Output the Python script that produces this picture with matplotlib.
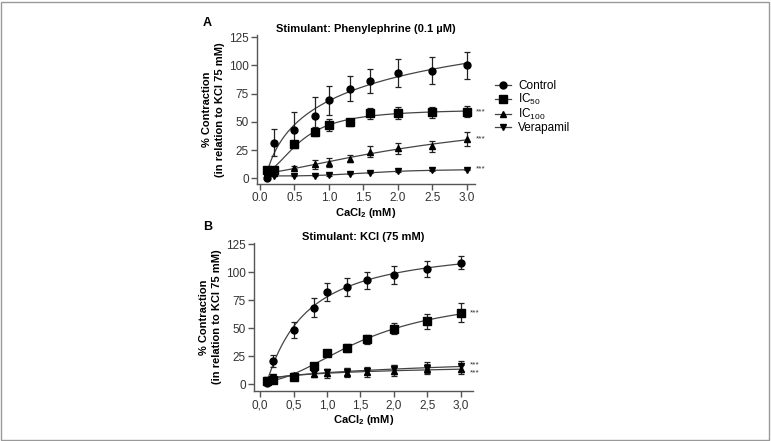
import numpy as np
import matplotlib
matplotlib.use("Agg")
import matplotlib.pyplot as plt
from matplotlib.lines import Line2D
from matplotlib.patches import Rectangle

FONT = ['Liberation Sans Narrow', 'Liberation Sans', 'DejaVu Sans']
plt.rcParams['font.family'] = FONT
plt.rcParams['mathtext.fontset'] = 'custom'
plt.rcParams['mathtext.rm'] = 'Liberation Sans'
plt.rcParams['mathtext.it'] = 'Liberation Sans'
plt.rcParams['mathtext.bf'] = 'Liberation Sans:bold'

# ---------------- data ----------------
x_ca = [0.1, 0.2, 0.5, 0.8, 1.0, 1.3, 1.6, 2.0, 2.5, 3.0]
series_names = ['Control', 'IC$_{50}$', 'IC$_{100}$', 'Verapamil']

A_control = [0, 31.5, 43, 55, 69, 79.5, 86.5, 93, 95.5, 100]
A_control_err = [1, 12, 16, 17, 13, 11, 10.5, 12.5, 12, 12]
A_ic50 = [7, 7, 30, 41.5, 47.5, 49.5, 57.5, 58, 58.5, 59]
A_ic50_err = [2, 2, 2, 4, 5.5, 3, 5, 5, 5, 5]
A_ic100 = [5, 5, 9.5, 12.5, 14, 17.5, 23.5, 26.5, 28.5, 35]
A_ic100_err = [1, 1, 1.5, 4, 4, 3, 5, 5, 5, 6.5]
A_vera = [1.5, 2.5, 2.5, 2.5, 3, 4, 5, 6.5, 7, 7.5]
A_vera_err = [0.5] * 10

B_control = [0.5, 20.5, 48.5, 68, 82, 87, 92.5, 97.5, 103, 108.5]
B_control_err = [1, 5.5, 7, 8.5, 8, 8, 7.5, 8, 7, 6]
B_ic50 = [3, 4, 6.5, 16, 27.5, 32.5, 40, 49.5, 56, 63.5]
B_ic50_err = [1, 1, 1, 3, 2.5, 3.5, 4, 5, 7, 8.5]
B_ic100 = [3.5, 6, 8, 9, 9.5, 10, 10.5, 12, 13.5, 13]
B_ic100_err = [1, 1.5, 2, 3, 4, 4, 4, 5, 4, 4]
B_vera = [4, 6.5, 7, 10, 10.5, 11, 12, 13, 14.5, 16]
B_vera_err = [1, 1.5, 2, 3, 3, 3, 3, 4, 5.5, 5]

y_ticks = [0, 25, 50, 75, 100, 125]
x_ticks = [0.0, 0.5, 1.0, 1.5, 2.0, 2.5, 3.0]
xtick_labels_A = ['0.0', '0.5', '1.0', '1.5', '2.0', '2.5', '3.0']
xtick_labels_B = ['0,0', '0,5', '1,0', '1,5', '2,0', '2,5', '3,0']

markers = ['o', 's', '^', 'v']
msizes = [5, 5.5, 5, 5]


def hill_fit(x, y):
    x = np.asarray(x, float)
    y = np.asarray(y, float)
    best = None
    for ec in np.exp(np.linspace(np.log(0.05), np.log(20), 120)):
        for n in np.linspace(0.5, 4, 36):
            f = x ** n / (ec ** n + x ** n)
            M = np.column_stack([np.ones_like(f), f])
            coef, *_ = np.linalg.lstsq(M, y, rcond=None)
            r = np.sum((M @ coef - y) ** 2)
            if best is None or r < best[0]:
                best = (r, ec, n, coef)
    _, ec, n, coef = best
    xs = np.linspace(x.min(), x.max(), 200)
    f = xs ** n / (ec ** n + xs ** n)
    return xs, coef[0] + coef[1] * f


fig = plt.figure(figsize=(7.71, 4.41), dpi=100)
W, H = 771, 441


def px_axes(left, right, top, bottom):
    return fig.add_axes([left / W, 1 - bottom / H, (right - left) / W, (bottom - top) / H])


def draw_panel(ax, ys, errs, xlim, ylim, xlabels, stars):
    for i, (y, e) in enumerate(zip(ys, errs)):
        xs, yf = hill_fit(x_ca, y)
        ax.plot(xs, yf, color='#444444', lw=0.9, zorder=2)
        ax.errorbar(x_ca, y, yerr=e, fmt=markers[i], ms=msizes[i], color='black',
                    ecolor='#222222', elinewidth=0.9, capsize=2.5, capthick=0.9, zorder=3)
    for yv in stars:
        ax.text(3.13, yv, '***', fontsize=6, color='#333333', va='center', ha='left',
                clip_on=False)
    ax.set_xlim(*xlim)
    ax.set_ylim(*ylim)
    ax.set_xticks(x_ticks)
    ax.set_xticklabels(xlabels)
    ax.set_yticks(y_ticks)
    for s in ['top', 'right']:
        ax.spines[s].set_visible(False)
    for s in ['left', 'bottom']:
        ax.spines[s].set_color('#555555')
        ax.spines[s].set_linewidth(1.0)
    ax.tick_params(direction='out', length=4, width=1, color='#555555',
                   labelsize=8.5, labelcolor='#333333', pad=2)
    ax.set_xlabel('CaCl$_\\mathbf{2}$ (mM)', fontsize=8, fontweight='bold', labelpad=1)
    ax.set_ylabel('% Contraction\n(in relation to KCl 75 mM)', fontsize=8,
                  fontweight='bold', labelpad=3, linespacing=1.3,
                  family=['Liberation Sans', 'DejaVu Sans'])


axA = px_axes(257, 475, 35, 184)
draw_panel(axA, [A_control, A_ic50, A_ic100, A_vera],
           [A_control_err, A_ic50_err, A_ic100_err, A_vera_err],
           (-0.043, 3.12), (-5, 127), xtick_labels_A, [59, 35, 8])
axA.set_title('Stimulant: Phenylephrine (0.1 µM)', fontsize=8, fontweight='bold', pad=2)

axB = px_axes(254, 473, 243, 391)
draw_panel(axB, [B_control, B_ic50, B_ic100, B_vera],
           [B_control_err, B_ic50_err, B_ic100_err, B_vera_err],
           (-0.09, 3.18), (-6.25, 126), xtick_labels_B, [63.5, 17, 10])
axB.set_title('Stimulant: KCl (75 mM)', fontsize=8, fontweight='bold', pad=2)

fig.text(207 / W, 1 - 23 / H, 'A', fontsize=9, fontweight='bold', ha='center', va='center',
         family=['Liberation Sans', 'DejaVu Sans'])
fig.text(208 / W, 1 - 227 / H, 'B', fontsize=9, fontweight='bold', ha='center', va='center',
         family=['Liberation Sans', 'DejaVu Sans'])

handles = [Line2D([], [], color='#444444', lw=0.9, marker=m, ms=s, mfc='black', mec='black')
           for m, s in zip(markers, msizes)]
fig.legend(handles, series_names, loc='upper left', bbox_to_anchor=(490 / W, 1 - 75 / H),
           frameon=False, fontsize=8.5, handlelength=1.4, handletextpad=0.6,
           labelspacing=0.0, borderaxespad=0)

fig.add_artist(Rectangle((1 / W, 1 / H), (W - 3) / W, (H - 3) / H, transform=fig.transFigure,
                         fill=False, edgecolor='#999999', lw=1))

fig.savefig('out.png', dpi=100)
